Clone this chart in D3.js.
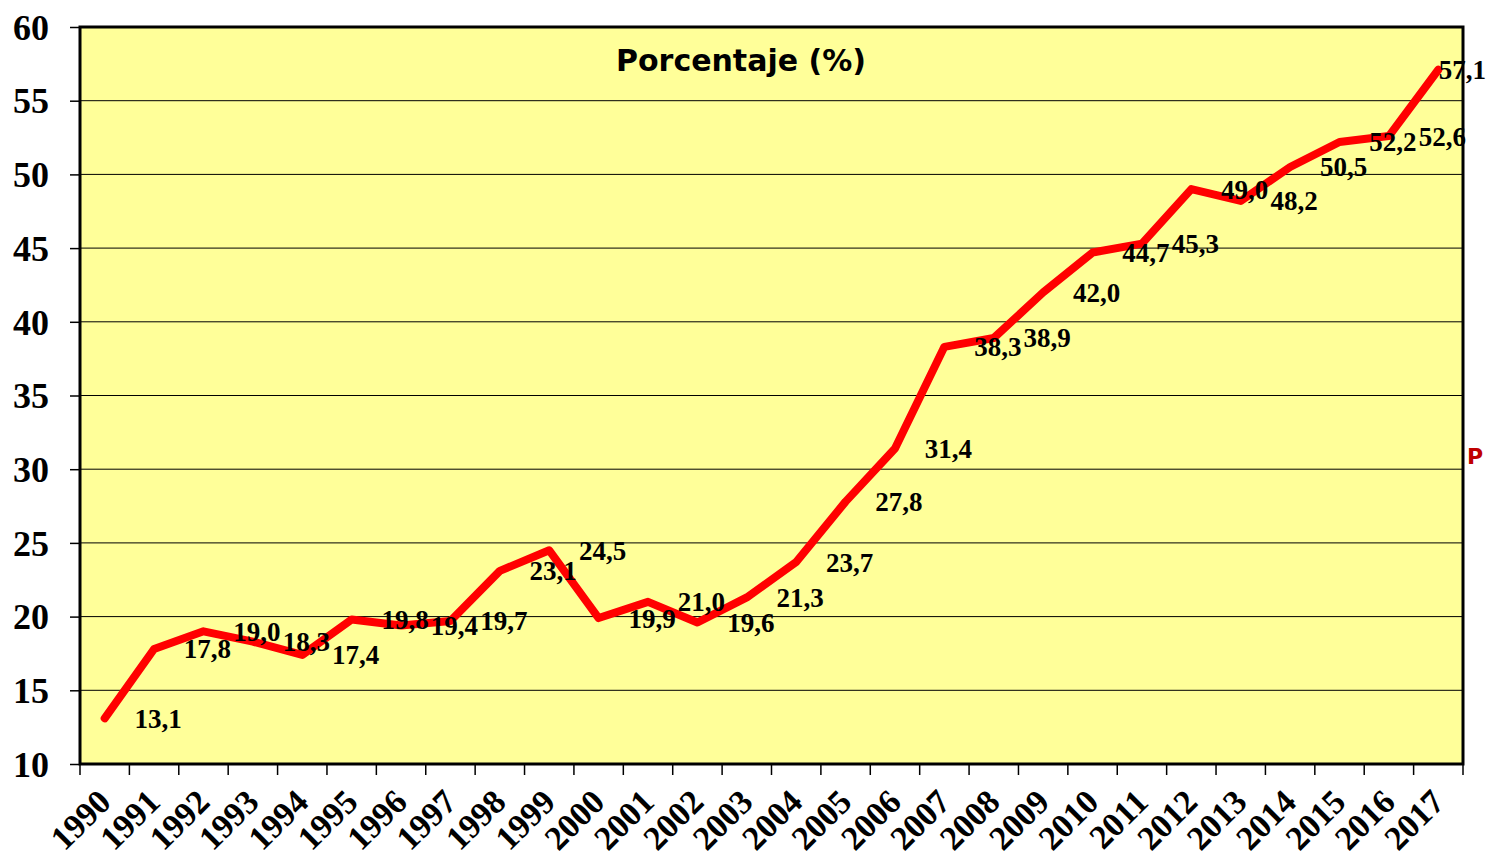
<!DOCTYPE html>
<html><head><meta charset="utf-8">
<script src="https://cdn.jsdelivr.net/npm/d3@7/dist/d3.min.js"></script>
<style>html,body{margin:0;padding:0;background:#fff;overflow:hidden}</style>
</head><body>
<svg id="c" width="1488" height="864"></svg>
<script>
const years = [1990,1991,1992,1993,1994,1995,1996,1997,1998,1999,2000,2001,2002,2003,2004,2005,2006,2007,2008,2009,2010,2011,2012,2013,2014,2015,2016,2017];
const values = [13.1,17.8,19.0,18.3,17.4,19.8,19.4,19.7,23.1,24.5,19.9,21.0,19.6,21.3,23.7,27.8,31.4,38.3,38.9,42.0,44.7,45.3,49.0,48.2,50.5,52.2,52.6,57.1];
const yTicks = [10,15,20,25,30,35,40,45,50,55,60];
const title = "Porcentaje (%)";

const svg = d3.select("#c");
const L = 80, R = 1463, T = 27, B = 764;
const x = d3.scaleBand().domain(years).range([L, R]).paddingInner(0).paddingOuter(0);
const y = d3.scaleLinear().domain([10, 60]).range([B, T]);
const cx = d => x(d) + x.bandwidth() / 2;
const serif = "'Liberation Serif','Times New Roman',serif";

// plot background
svg.append("rect").attr("x", L).attr("y", T).attr("width", R - L).attr("height", B - T).attr("fill", "#FFFF99");

// gridlines
svg.append("g").selectAll("line").data(yTicks.slice(1, -1)).join("line")
  .attr("x1", L).attr("x2", R).attr("y1", d => y(d)).attr("y2", d => y(d))
  .attr("stroke", "#000").attr("stroke-width", 1);

// y axis
const yAxis = svg.append("g").attr("transform", `translate(${L},0)`)
  .call(d3.axisLeft(y).tickValues(yTicks).tickSize(10).tickPadding(21).tickFormat(d3.format("d")));
yAxis.select(".domain").remove();
yAxis.selectAll(".tick line").attr("stroke", "#000").attr("stroke-width", 1.5);
yAxis.selectAll(".tick text").attr("font-family", serif).attr("font-weight", "bold").attr("font-size", 36).attr("fill", "#000").attr("dy", "0.34em");

// x ticks at band boundaries
const bounds = years.map(d => x(d)).concat([R]);
svg.append("g").selectAll("line").data(bounds).join("line")
  .attr("x1", d => d).attr("x2", d => d).attr("y1", B).attr("y2", B + 11)
  .attr("stroke", "#000").attr("stroke-width", 1.5);

// x labels
svg.append("g").selectAll("text").data(years).join("text")
  .attr("transform", d => `translate(${cx(d) + 8},${B + 40}) rotate(-45)`)
  .attr("text-anchor", "end")
  .attr("font-family", serif).attr("font-weight", "bold").attr("font-size", 34).attr("fill", "#000")
  .text(d => d);

// plot border
svg.append("rect").attr("x", L).attr("y", T).attr("width", R - L).attr("height", B - T)
  .attr("fill", "none").attr("stroke", "#000").attr("stroke-width", 3);

// line
const line = d3.line().x((d, i) => cx(years[i])).y(d => y(d));
svg.append("path").datum(values).attr("d", line)
  .attr("fill", "none").attr("stroke", "#FF0000").attr("stroke-width", 8)
  .attr("stroke-linejoin", "round").attr("stroke-linecap", "round");

// value labels (offset one category to the right as in source)
const fmt = v => v.toFixed(1).replace(".", ",");
const last = years.length - 1;
svg.append("g").selectAll("text").data(values).join("text")
  .attr("x", (d, i) => i < last ? cx(years[i + 1]) + 4 : R + 23)
  .attr("y", d => y(d))
  .attr("dy", "0.35em")
  .attr("text-anchor", (d, i) => i < last ? "middle" : "end")
  .attr("font-family", serif).attr("font-weight", "bold").attr("font-size", 27).attr("fill", "#000")
  .text(fmt);

// title
svg.append("text").attr("x", 741).attr("y", 71).attr("text-anchor", "middle")
  .attr("font-family", "'DejaVu Sans',Verdana,sans-serif").attr("font-weight", "bold").attr("font-size", 30)
  .attr("fill", "#000").text(title);

// red legend text at right edge (cut off in source)
svg.append("text").attr("x", 1467).attr("y", 464)
  .attr("font-family", "'DejaVu Sans',Verdana,sans-serif").attr("font-weight", "bold").attr("font-size", 22)
  .attr("fill", "#C00000").text("P");
</script>
</body></html>
